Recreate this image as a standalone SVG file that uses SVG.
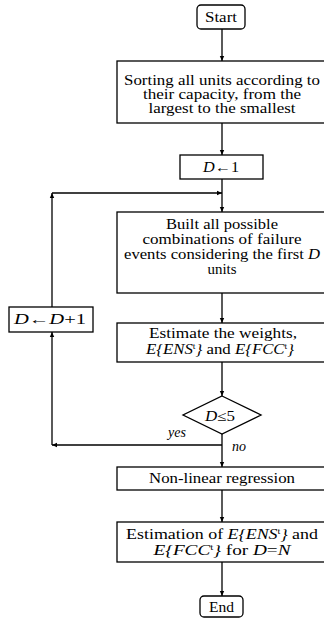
<svg xmlns="http://www.w3.org/2000/svg" width="324" height="620" viewBox="0 0 324 620">
<defs>
<style>
.b{fill:#fff;stroke:#000;stroke-width:1.3}
.t{font-size:14px;fill:#000;text-anchor:middle}
.i{font-style:italic}
.c{fill:none;stroke:#000;stroke-width:1.3}
</style>
<marker id="ah" markerWidth="6" markerHeight="6" refX="5" refY="3" orient="auto" markerUnits="userSpaceOnUse">
<path d="M0,0.8 L5,3 L0,5.2 Z" fill="#000"/>
</marker>
</defs>
<rect width="324" height="620" fill="#fff"/>
<g id="connectors">
<line class="c" x1="222" y1="29" x2="222" y2="61" marker-end="url(#ah)"/>
<line class="c" x1="222" y1="123" x2="222" y2="155" marker-end="url(#ah)"/>
<line class="c" x1="222" y1="179" x2="222" y2="212" marker-end="url(#ah)"/>
<line class="c" x1="222" y1="293" x2="222" y2="323" marker-end="url(#ah)"/>
<line class="c" x1="222" y1="362" x2="222" y2="396" marker-end="url(#ah)"/>
<line class="c" x1="222" y1="434" x2="222" y2="467" marker-end="url(#ah)"/>
<line class="c" x1="222" y1="490" x2="222" y2="522" marker-end="url(#ah)"/>
<line class="c" x1="222" y1="562" x2="222" y2="596" marker-end="url(#ah)"/>
<line class="c" x1="52" y1="307" x2="52" y2="193" marker-end="url(#ah)"/>
<line class="c" x1="52" y1="193" x2="222" y2="193" marker-end="url(#ah)"/>
<line class="c" x1="222" y1="445" x2="52" y2="445" marker-end="url(#ah)"/>
<line class="c" x1="52" y1="445" x2="52" y2="332" marker-end="url(#ah)"/>
</g>
<g font-family="'Liberation Serif', 'Times New Roman', 'DejaVu Serif', serif">
<g id="start">
<rect class="b" x="197" y="5" width="48" height="24" rx="4"/>
<text class="t" x="221" y="22" textLength="32" lengthAdjust="spacingAndGlyphs">Start</text>
</g>
<g id="sort">
<rect class="b" x="117" y="61" width="210" height="62"/>
<text class="t" x="222" y="85" textLength="196" lengthAdjust="spacingAndGlyphs">Sorting all units according to</text>
<text class="t" x="222" y="99" textLength="158" lengthAdjust="spacingAndGlyphs">their capacity, from the</text>
<text class="t" x="222" y="113" textLength="147" lengthAdjust="spacingAndGlyphs">largest to the smallest</text>
</g>
<g id="init">
<rect class="b" x="180" y="155" width="83" height="24"/>
<text class="t" x="221" y="172" textLength="36" lengthAdjust="spacingAndGlyphs"><tspan class="i">D</tspan>←1</text>
</g>
<g id="build">
<rect class="b" x="117" y="212" width="210" height="81"/>
<text class="t" x="222" y="229" textLength="112" lengthAdjust="spacingAndGlyphs">Built all possible</text>
<text class="t" x="222" y="244" textLength="159" lengthAdjust="spacingAndGlyphs">combinations of failure</text>
<text class="t" x="222" y="259" textLength="196" lengthAdjust="spacingAndGlyphs">events considering the first <tspan class="i">D</tspan></text>
<text class="t" x="222" y="274" textLength="29" lengthAdjust="spacingAndGlyphs">units</text>
</g>
<g id="estimate">
<rect class="b" x="117" y="323" width="210" height="39"/>
<text class="t" x="223" y="338" textLength="148" lengthAdjust="spacingAndGlyphs">Estimate the weights,</text>
<text class="t" x="220" y="354" textLength="148" lengthAdjust="spacingAndGlyphs"><tspan class="i">E{ENS</tspan><tspan font-size="8" dy="-5">t</tspan><tspan class="i" dy="5">}</tspan> and <tspan class="i">E{FCC</tspan><tspan font-size="8" dy="-5">t</tspan><tspan class="i" dy="5">}</tspan></text>
</g>
<g id="increment">
<rect class="b" x="9" y="307" width="84" height="25"/>
<text class="t" x="50" y="324" textLength="72" lengthAdjust="spacingAndGlyphs"><tspan class="i">D</tspan>←<tspan class="i">D</tspan>+1</text>
</g>
<g id="decision">
<polygon class="b" points="222,396 261,415 222,434 183,415"/>
<text class="t" x="220" y="421" textLength="30" lengthAdjust="spacingAndGlyphs"><tspan class="i">D</tspan>≤5</text>
<text class="t i" x="177" y="437">yes</text>
<text class="t i" x="239" y="451">no</text>
</g>
<g id="regression">
<rect class="b" x="117" y="467" width="210" height="23"/>
<text class="t" x="222" y="483" textLength="146" lengthAdjust="spacingAndGlyphs">Non-linear regression</text>
</g>
<g id="estimation">
<rect class="b" x="117" y="522" width="210" height="40"/>
<text class="t" x="222" y="539" textLength="192" lengthAdjust="spacingAndGlyphs">Estimation of <tspan class="i">E{ENS</tspan><tspan font-size="8" dy="-5">t</tspan><tspan class="i" dy="5">}</tspan> and</text>
<text class="t" x="222" y="555" textLength="137" lengthAdjust="spacingAndGlyphs"><tspan class="i">E{FCC</tspan><tspan font-size="8" dy="-5">t</tspan><tspan class="i" dy="5">}</tspan> for <tspan class="i">D</tspan>=<tspan class="i">N</tspan></text>
</g>
<g id="end">
<rect class="b" x="200" y="596" width="43" height="21" rx="4"/>
<text class="t" x="221.5" y="612" textLength="25" lengthAdjust="spacingAndGlyphs">End</text>
</g>
</g>
</svg>
